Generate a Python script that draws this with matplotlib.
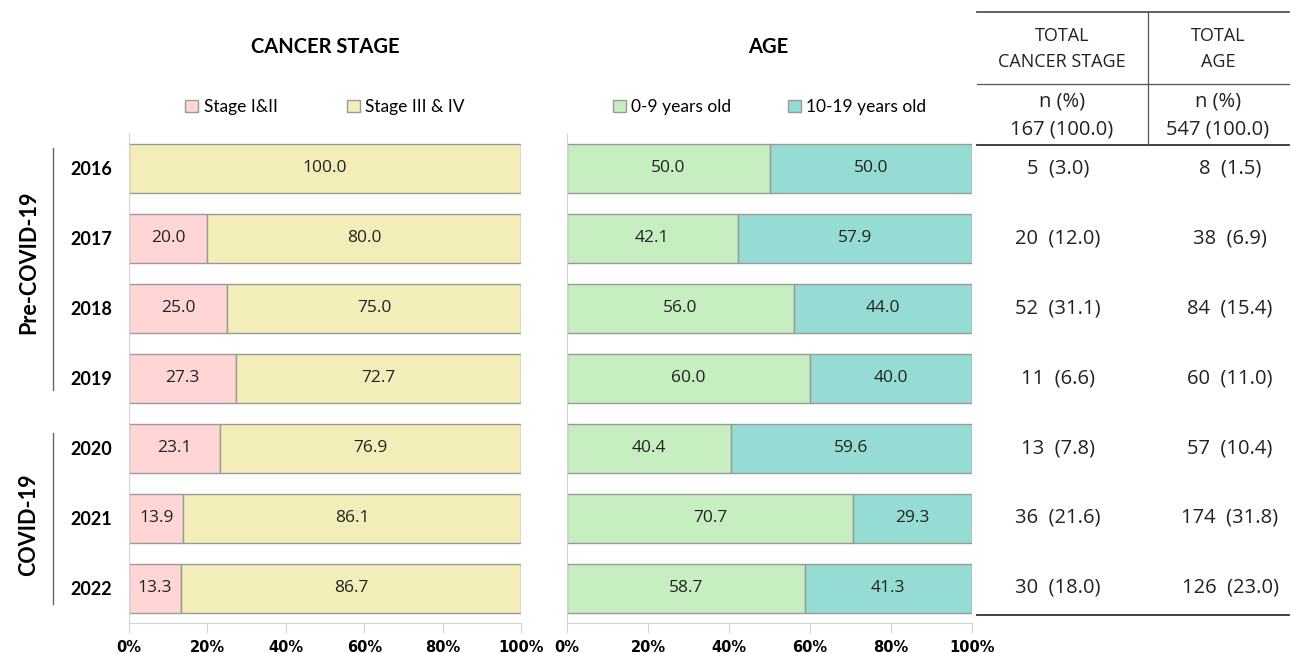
import matplotlib
matplotlib.use("Agg")
import matplotlib.pyplot as plt
from matplotlib.lines import Line2D
from matplotlib.patches import Patch
from matplotlib.ticker import PercentFormatter

plt.rcParams["font.family"] = ["Lato", "DejaVu Sans"]

# data
years = ["2016", "2017", "2018", "2019", "2020", "2021", "2022"]
stage_12 = [0.0, 20.0, 25.0, 27.3, 23.1, 13.9, 13.3]
stage_34 = [100.0, 80.0, 75.0, 72.7, 76.9, 86.1, 86.7]
age_0_9 = [50.0, 42.1, 56.0, 60.0, 40.4, 70.7, 58.7]
age_10_19 = [50.0, 57.9, 44.0, 40.0, 59.6, 29.3, 41.3]
stage_n = [5, 20, 52, 11, 13, 36, 30]
stage_pct = [3.0, 12.0, 31.1, 6.6, 7.8, 21.6, 18.0]
age_n = [8, 38, 84, 60, 57, 174, 126]
age_pct = [1.5, 6.9, 15.4, 11.0, 10.4, 31.8, 23.0]
stage_total = "167 (100.0)"
age_total = "547 (100.0)"

C_PINK = "#ffd5d6"
C_YELLOW = "#f2edb9"
C_GREEN = "#c6eec0"
C_TEAL = "#95ddd4"
EDGE = "#9a9a9a"
GRID = "#d4d4d4"

W, H = 1301, 653
fig = plt.figure(figsize=(W / 100, H / 100), dpi=100)


def fx(px):
    return px / W


def fy(py):
    return 1 - py / H


ax_top, ax_bot = 133, 623
ax1 = fig.add_axes([fx(129), fy(ax_bot), fx(521) - fx(129), fy(ax_top) - fy(ax_bot)])
ax2 = fig.add_axes([fx(567), fy(ax_bot), fx(972) - fx(567), fy(ax_top) - fy(ax_bot)])

ypos = list(range(len(years)))


def draw_panel(ax, left_vals, right_vals, c_left, c_right, labels, colspace):
    lv = [v / 100 for v in left_vals]
    rv = [v / 100 for v in right_vals]
    b1 = ax.barh(ypos, lv, height=0.7, color=c_left, edgecolor=EDGE, linewidth=1)
    b2 = ax.barh(ypos, rv, left=lv, height=0.7, color=c_right, edgecolor=EDGE, linewidth=1)
    for bars, vals in ((b1, left_vals), (b2, right_vals)):
        for bar, v in zip(bars, vals):
            if v > 0:
                ax.text(bar.get_x() + bar.get_width() / 2, bar.get_y() + bar.get_height() / 2,
                        f"{v:.1f}", ha="center", va="center", fontsize=12.5,
                        color="#222222", family=["Open Sans", "DejaVu Sans"])
    ax.set_xlim(0, 1)
    ax.set_ylim(len(years) - 0.5, -0.5)
    ax.xaxis.set_major_formatter(PercentFormatter(1.0, decimals=0))
    ax.set_xticks([0, 0.2, 0.4, 0.6, 0.8, 1.0])
    ax.tick_params(axis="x", length=7, color=GRID, pad=5)
    for lab in ax.get_xticklabels():
        lab.set_fontweight("bold")
        lab.set_fontsize(10.5)
        lab.set_family(["Liberation Sans Narrow", "DejaVu Sans"])
    for s in ("top", "right"):
        ax.spines[s].set_visible(False)
    ax.spines["left"].set_color(GRID)
    ax.spines["bottom"].set_color(GRID)
    handles = [Patch(facecolor=c_left, edgecolor=EDGE), Patch(facecolor=c_right, edgecolor=EDGE)]
    ax.legend(handles, labels, loc="center", bbox_to_anchor=(0.5, 1.053), ncol=2,
              frameon=False, fontsize=12.5, handlelength=0.75, handleheight=0.75,
              handletextpad=0.3, columnspacing=colspace)


draw_panel(ax1, stage_12, stage_34, C_PINK, C_YELLOW, ["Stage I&II", "Stage III & IV"], 4.0)
draw_panel(ax2, age_0_9, age_10_19, C_GREEN, C_TEAL, ["0-9 years old", "10-19 years old"], 3.3)

ax1.set_yticks(ypos)
ax1.set_yticklabels(years, fontweight="bold", fontsize=13)
ax1.tick_params(axis="y", length=0, pad=12)
ax2.set_yticks([])

# panel titles
fig.text(fx(325), fy(47), "CANCER STAGE", ha="center", va="center", fontsize=14.5, fontweight="bold")
fig.text(fx(768), fy(47), "AGE", ha="center", va="center", fontsize=14.5, fontweight="bold")

# period brackets
fig.text(fx(29), fy(262), "Pre-COVID-19", rotation=90, ha="center", va="center",
         fontsize=15.5, fontweight="bold")
fig.text(fx(29), fy(525), "COVID-19", rotation=90, ha="center", va="center",
         fontsize=15.5, fontweight="bold")
fig.add_artist(Line2D([fx(53), fx(53)], [fy(148), fy(390)], color="#666666", lw=1))
fig.add_artist(Line2D([fx(53), fx(53)], [fy(433), fy(604)], color="#666666", lw=1))

# totals table
tfont = dict(family=["Open Sans", "DejaVu Sans"], fontsize=14.5, color="#222222")
hfont = dict(family=["Open Sans", "DejaVu Sans"], fontsize=13, color="#222222")
tl, tr = fx(977), fx(1289)
fig.add_artist(Line2D([tl, tr], [fy(12), fy(12)], color="#555555", lw=1.3))
fig.add_artist(Line2D([tl, tr], [fy(84), fy(84)], color="#555555", lw=0.9))
fig.add_artist(Line2D([tl, tr], [fy(145), fy(145)], color="#333333", lw=1.3))
fig.add_artist(Line2D([tl, tr], [fy(615), fy(615)], color="#333333", lw=1.3))
fig.add_artist(Line2D([fx(1148), fx(1148)], [fy(12), fy(145)], color="#555555", lw=0.9))

fig.text(fx(1062), fy(49), "TOTAL\nCANCER STAGE", ha="center", va="center",
         linespacing=1.6, **hfont)
fig.text(fx(1218), fy(49), "TOTAL\nAGE", ha="center", va="center", linespacing=1.6, **hfont)
fig.text(fx(1062), fy(101), "n (%)", ha="center", va="center", **tfont)
fig.text(fx(1218), fy(101), "n (%)", ha="center", va="center", **tfont)
fig.text(fx(1062), fy(130), stage_total, ha="center", va="center", **tfont)
fig.text(fx(1218), fy(130), age_total, ha="center", va="center", **tfont)

for i in ypos:
    yc = ax1.transData.transform((0, i))[1] / fig.bbox.height
    fig.text(fx(1058), yc, f"{stage_n[i]}  ({stage_pct[i]:.1f})", ha="center", va="center", **tfont)
    fig.text(fx(1230), yc, f"{age_n[i]}  ({age_pct[i]:.1f})", ha="center", va="center", **tfont)

fig.savefig("out.png", dpi=100)
